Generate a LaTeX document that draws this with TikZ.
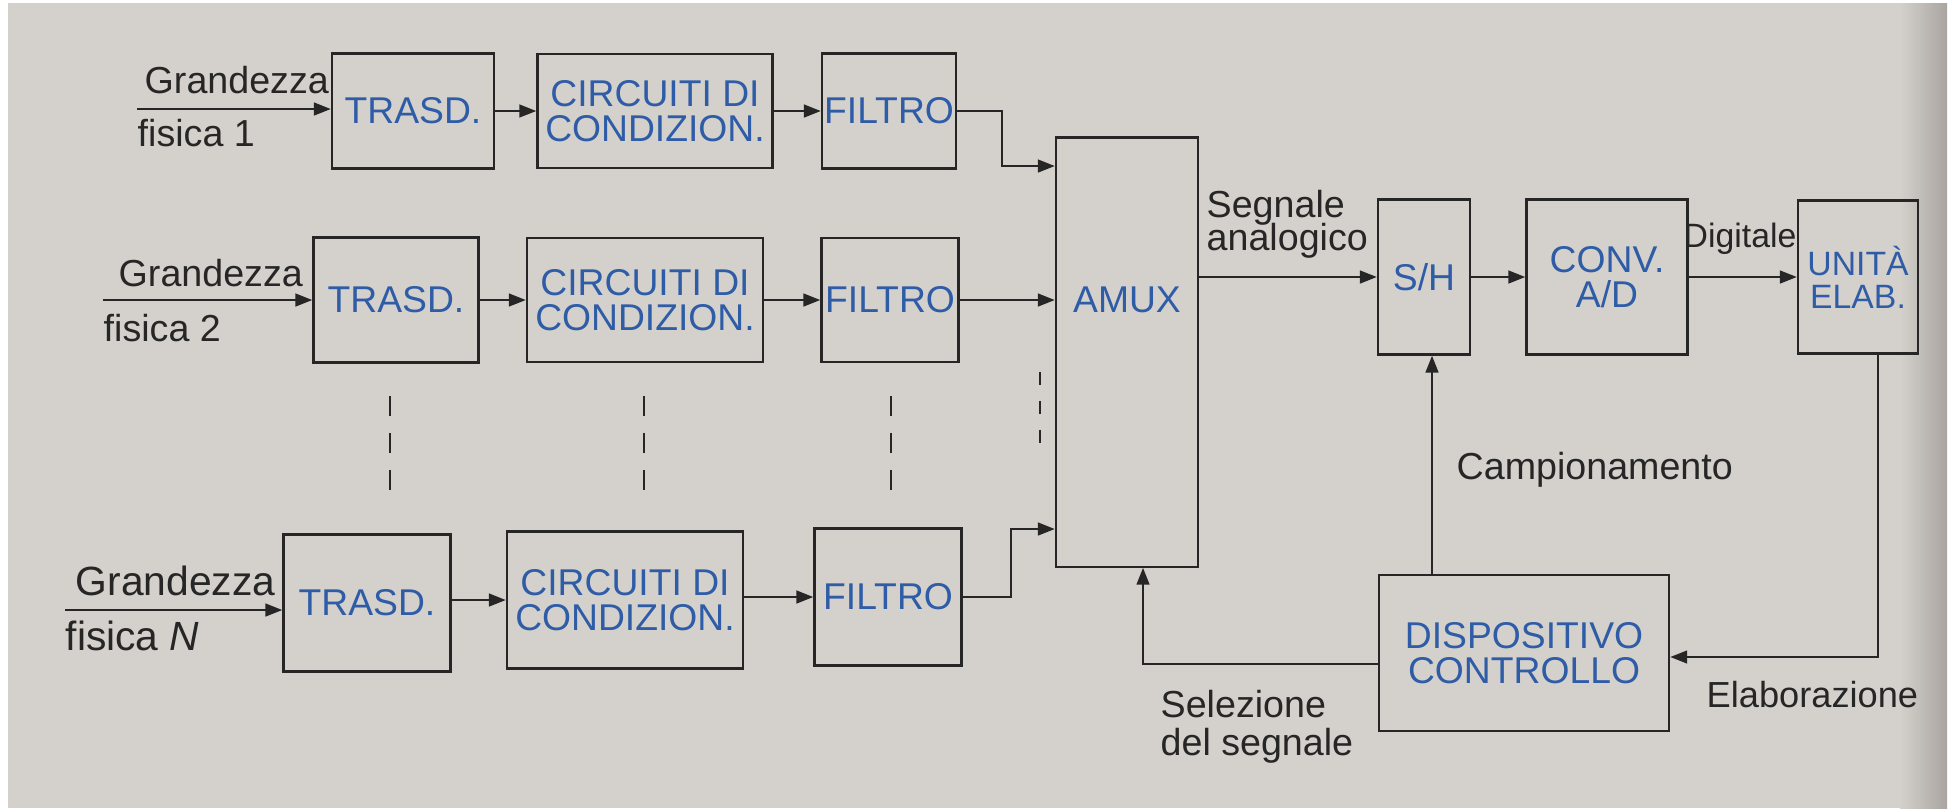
\documentclass[tikz,border=0pt]{standalone}
\usepackage{fontspec}
\setmainfont{Liberation Sans}
\usetikzlibrary{arrows.meta}
\definecolor{paper}{HTML}{D4D1CC}
\definecolor{paperdark}{HTML}{A9A4A0}
\definecolor{boxblue}{HTML}{2F5CA6}
\definecolor{ink}{HTML}{262626}
\begin{document}
\begin{tikzpicture}[x=0.01cm,y=-0.01cm,
  blk/.style={draw=ink, line width=0.65pt, text=boxblue, font=\fontsize{10.6}{9.8}\selectfont, align=center, inner sep=0pt},
  lbl/.style={text=ink, font=\fontsize{10.7}{10}\selectfont, inner sep=0pt, align=left},
  conn/.style={draw=ink, line width=0.65pt},
  arr/.style={conn, -{Triangle[length=4.8pt,width=3.6pt]}},
  dsh/.style={draw=ink, line width=0.5pt, dash pattern=on 5.7pt off 4.8pt}]
\useasboundingbox (0,0) rectangle (1952,811);
\fill[white] (0,0) rectangle (1952,811);
\fill[paper] (8,3) rectangle (1947,808);
\shade[left color=paper, right color=paperdark] (1900,3) rectangle (1947,808);

% ---- row 1
\node[blk, minimum width=1.62cm, minimum height=1.15cm] (t1) at (413,111) {TRASD.};
\node[blk, minimum width=2.35cm, minimum height=1.14cm] (c1) at (655,111) {CIRCUITI DI\\CONDIZION.};
\node[blk, minimum width=1.34cm, minimum height=1.15cm] (f1) at (889,111) {FILTRO};
% ---- row 2
\node[blk, minimum width=1.65cm, minimum height=1.25cm] (t2) at (396,300) {TRASD.};
\node[blk, minimum width=2.36cm, minimum height=1.24cm] (c2) at (645,300) {CIRCUITI DI\\CONDIZION.};
\node[blk, minimum width=1.37cm, minimum height=1.24cm] (f2) at (890,300) {FILTRO};
% ---- row N
\node[blk, minimum width=1.67cm, minimum height=1.37cm] (tn) at (367,603) {TRASD.};
\node[blk, minimum width=2.36cm, minimum height=1.37cm] (cn) at (625,600) {CIRCUITI DI\\CONDIZION.};
\node[blk, minimum width=1.47cm, minimum height=1.37cm] (fn) at (888,597) {FILTRO};

% ---- multiplexer
\node[blk, minimum width=1.42cm, minimum height=4.29cm] (amux) at (1127,352) {};
\node[text=boxblue, font=\fontsize{10.6}{9.8}\selectfont, inner sep=0pt] (amuxlbl) at (1127,300) {AMUX};

% ---- right chain
\node[blk, minimum width=0.92cm, minimum height=1.55cm] (sh) at (1424,277) {S/H};
\node[blk, minimum width=1.61cm, minimum height=1.55cm] (adc) at (1607,277) {CONV.\\A/D};
\node[blk, minimum width=1.2cm, minimum height=1.53cm, font=\fontsize{9.6}{9.4}\selectfont] (cpu) at (1858,277) {UNITÀ\\ELAB.};
\node[blk, minimum width=2.9cm, minimum height=1.56cm] (ctl) at (1524,653) {DISPOSITIVO\\CONTROLLO};

% ---- input labels
\node[lbl, anchor=base west] (g1) at (144,93) {Grandezza};
\node[lbl, anchor=base west] (p1) at (137,146) {fisica 1};
\node[lbl, anchor=base west] (g2) at (118,286) {Grandezza};
\node[lbl, anchor=base west] (p2) at (103,341) {fisica 2};
\node[lbl, anchor=base west, font=\fontsize{11.6}{11}\selectfont] (gn) at (75,595) {Grandezza};
\node[lbl, anchor=base west, font=\fontsize{11.6}{11}\selectfont] (pn) at (65,650) {fisica \textit{N}};

\coordinate (in1) at (137,109);
\coordinate (in2) at (103,300);
\coordinate (inn) at (65,610);
\draw[arr] (in1) -- (t1.west |- in1);
\draw[arr] (in2) -- (t2.west);
\draw[arr] (inn) -- (tn.west |- inn);

% ---- row connections
\draw[arr] (t1.east) -- (c1.west);
\draw[arr] (c1.east) -- (f1.west);
\draw[arr] (t2.east) -- (c2.west);
\draw[arr] (c2.east) -- (f2.west);
\draw[arr] (tn.east |- cn.west) -- (cn.west);
\draw[arr] (cn.east |- fn.west) -- (fn.west);

\coordinate (j1) at (1002,166);
\coordinate (jn) at (1011,529);
\draw[arr] (f1.east) -| (j1) -- (amux.west |- j1);
\draw[arr] (f2.east) -- (amux.west |- f2.east);
\draw[arr] (fn.east) -| (jn) -- (amux.west |- jn);

% ---- dashed continuation marks
\draw[dsh] (390,396) -- (390,490);
\draw[dsh] (644,396) -- (644,490);
\draw[dsh] (891,396) -- (891,490);
\draw[draw=ink, line width=0.5pt, dash pattern=on 3.7pt off 4.5pt] (1040,372) -- (1040,444);

% ---- right chain connections
\draw[arr] (amux.east |- sh.west) -- (sh.west);
\draw[arr] (sh.east) -- (adc.west);
\draw[arr] (adc.east) -- (cpu.west);

\coordinate (samp) at (1432,575);
\draw[arr] (ctl.north -| samp) -- (sh.south -| samp);

\coordinate (elab) at (1878,657);
\draw[arr] (cpu.south -| elab) -- (elab) -- (ctl.east |- elab);

\coordinate (sel) at (1143,664);
\draw[arr] (ctl.west |- sel) -- (sel) -- (amux.south -| sel);

% ---- signal labels
\node[lbl, anchor=base west] (seg) at (1206,217) {Segnale};
\node[lbl, anchor=base west] (ana) at (1206,250) {analogico};
\node[lbl, anchor=base west, font=\fontsize{9.6}{10}\selectfont] (dig) at (1683,247) {Digitale};
\node[lbl, anchor=base west] (camp) at (1456,479) {Campionamento};
\node[lbl, anchor=base west, font=\fontsize{10.3}{10}\selectfont] (elabl) at (1706,707) {Elaborazione};
\node[lbl, anchor=base west] (sel1) at (1160,717) {Selezione};
\node[lbl, anchor=base west] (sel2) at (1160,755) {del segnale};
\end{tikzpicture}
\end{document}
